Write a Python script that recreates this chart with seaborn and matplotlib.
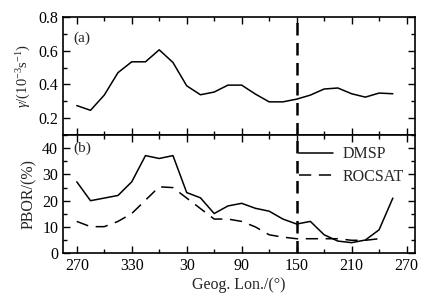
import numpy as np
import pandas as pd
import matplotlib
matplotlib.use("Agg")
import matplotlib.pyplot as plt
import seaborn as sns
from matplotlib.ticker import MultipleLocator, FixedLocator

# longitudes, unwrapped so that 270 -> 630 runs continuously
lon = [270, 285, 300, 315, 330, 345, 360, 375, 390, 405, 420, 435,
       450, 465, 480, 495, 510, 525, 540, 555, 570, 585, 600, 615]
gamma = [0.275, 0.247, 0.337, 0.47, 0.534, 0.534, 0.605, 0.53, 0.392, 0.339,
         0.355, 0.396, 0.396, 0.343, 0.297, 0.297, 0.313, 0.337, 0.373, 0.379,
         0.345, 0.325, 0.349, 0.345]
dmsp = [27.2, 20, 21, 22, 27.2, 37.2, 36.1, 37.2, 23.1, 21.1, 15.1, 18,
        19, 17.1, 16, 13, 11.1, 12.1, 7, 4.6, 4, 5, 8.9, 21]
rocsat = [12.1, 10.1, 10.1, 12.1, 15.1, 20.2, 25.3, 25, 21, 17, 13, 13,
          12.1, 10, 7, 6.1, 5.5, 5.5, 5.5, 5.5, 4.9, 4.9, 5.5]
tick_pos = [270, 330, 390, 450, 510, 570, 630]
tick_lab = ["270", "330", "30", "90", "150", "210", "270"]
marker_lon = 510  # 150 deg

sns.set_theme(style="ticks")
plt.rcParams["font.family"] = ["Liberation Serif", "DejaVu Serif"]
plt.rcParams["mathtext.fontset"] = "custom"
plt.rcParams["mathtext.rm"] = "Liberation Serif"
plt.rcParams["mathtext.it"] = "Liberation Serif:italic"

df_a = pd.DataFrame({"lon": lon, "gamma": gamma})
df_b = pd.DataFrame({"lon": lon[:len(dmsp)], "DMSP": dmsp})
df_c = pd.DataFrame({"lon": lon[:len(rocsat)], "ROCSAT": rocsat})

fig = plt.figure(figsize=(4.47, 3.01), dpi=100)
ax1 = fig.add_axes([0.141, 0.551, 0.787, 0.393])
ax2 = fig.add_axes([0.141, 0.159, 0.787, 0.392], sharex=ax1)

sns.lineplot(data=df_a, x="lon", y="gamma", ax=ax1, color="black", lw=1.1)
sns.lineplot(data=df_b, x="lon", y="DMSP", ax=ax2, color="black", lw=1.1,
             label="DMSP")
sns.lineplot(data=df_c, x="lon", y="ROCSAT", ax=ax2, color="black", lw=1.1,
             dashes=(8, 5), label="ROCSAT")

for ax in (ax1, ax2):
    ax.axvline(marker_lon, color="black", lw=1.8, dashes=(5, 3))
    ax.set_xlim(255, 639)
    ax.xaxis.set_major_locator(FixedLocator(tick_pos))
    ax.xaxis.set_minor_locator(MultipleLocator(30))
    ax.tick_params(which="both", direction="in", top=True, right=True,
                   width=1, colors="black", labelsize=11.5)
    ax.tick_params(which="major", length=5)
    ax.tick_params(which="minor", length=3)
    for s in ax.spines.values():
        s.set_linewidth(1.2)
        s.set_color("black")
    ax.set_xlabel("")

ax1.set_ylim(0.1, 0.8)
ax1.yaxis.set_major_locator(MultipleLocator(0.2))
ax1.yaxis.set_minor_locator(MultipleLocator(0.1))
ax1.set_yticks([0.2, 0.4, 0.6, 0.8])
ax1.set_yticklabels(["0.2", "0.4", "0.6", "0.8"])
ax1.tick_params(axis="x", labelbottom=False)
ax1.set_ylabel(r"$\it{\gamma}$/(10$^{-3}$s$^{-1}$)", fontsize=10.5, labelpad=4)
ax1.text(0.03, 0.88, "(a)", transform=ax1.transAxes, fontsize=11, va="top")

ax2.set_ylim(0, 45)
ax2.yaxis.set_major_locator(MultipleLocator(10))
ax2.yaxis.set_minor_locator(MultipleLocator(5))
ax2.set_xticklabels(tick_lab)
ax2.set_ylabel("PBOR/(%)", fontsize=11.5, labelpad=4)
ax2.set_xlabel("Geog. Lon./(°)", fontsize=11.5, labelpad=2)
ax2.text(0.03, 0.95, "(b)", transform=ax2.transAxes, fontsize=11, va="top")
ax2.legend(loc="upper right", frameon=False, fontsize=11.5, handlelength=2.1,
           borderaxespad=0.3, labelspacing=0.4, handletextpad=0.6)

fig.savefig("out.png", dpi=100)
